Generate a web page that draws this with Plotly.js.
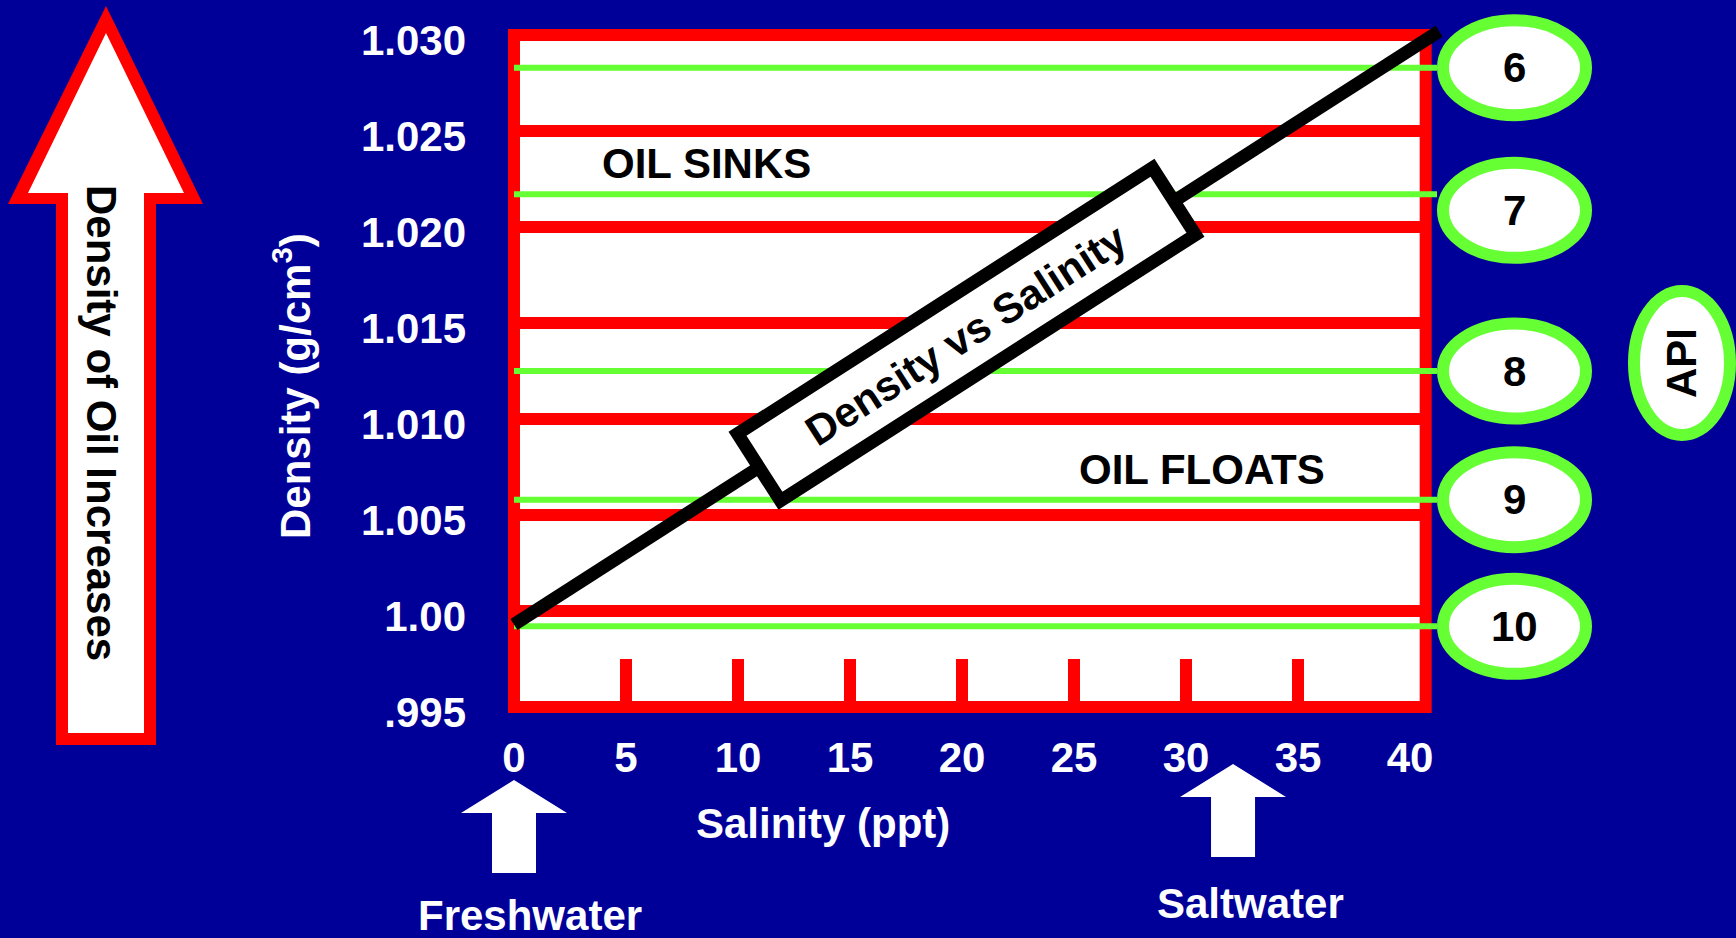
<!DOCTYPE html>
<html>
<head>
<meta charset="utf-8">
<script src="https://cdn.plot.ly/plotly-3.0.1.min.js"></script>
<style>
  html, body { margin: 0; padding: 0; background: #000099; }
  #chart { width: 1736px; height: 938px; }
</style>
</head>
<body>
<div id="chart"></div>
<script>
// ---------------- data ----------------
const salinityTicks = [0, 5, 10, 15, 20, 25, 30, 35, 40];
const salinityTickText = ['0', '5', '10', '15', '20', '25', '30', '35', '40'];
const densityTicks = [0.995, 1.000, 1.005, 1.010, 1.015, 1.020, 1.025, 1.030];
const densityTickText = ['.995', '1.00', '1.005', '1.010', '1.015', '1.020', '1.025', '1.030'];
const lineSalinity = [0, 41.3];
const lineDensity = [0.9993, 1.0302];
const apiGravity = ['6', '7', '8', '9', '10'];
const apiDensity = [1.0283, 1.0217, 1.0125, 1.0058, 0.9992];
const waterLabels = ['Freshwater', 'Saltwater'];
const waterSalinity = [0, 32.1];

// ---------------- geometry / style ----------------
const W = 1736, H = 938;
const X0PX = 514, PXX = 22.4;        // pixel of salinity 0, px per ppt
const Y0PX = 35, PXY = 19200, TOPV = 1.030; // pixel of 1.030, px per g/cm3
const px2x = p => (p - X0PX) / PXX;
const py2y = p => TOPV - (p - Y0PX) / PXY;
const x2px = v => X0PX + v * PXX;
const y2py = d => Y0PX + (TOPV - d) * PXY;
const P = (x, y) => (x / W).toFixed(5) + ',' + (1 - y / H).toFixed(5);
const frameMax = 40.7;
const frameMin = 0;
const densMin = 0.995, densMax = 1.030;

const RED = '#FF0000', GREEN = '#66FF33', BLUE = '#000099';
const FONT = 'Liberation Sans, Arial, Helvetica, sans-serif';
const FS = 42;

const shapes = [];
const annotations = [];

// white plotting field
shapes.push({type: 'rect', xref: 'x', yref: 'y', x0: frameMin, x1: frameMax, y0: densMin, y1: densMax,
  fillcolor: '#FFFFFF', line: {width: 0}, layer: 'below'});
// red horizontal grid lines at each density tick
densityTicks.forEach(d => {
  if (d > densMin && d < densMax) {
    shapes.push({type: 'line', xref: 'x', yref: 'y', x0: frameMin, x1: frameMax, y0: d, y1: d,
      line: {color: RED, width: 12}, layer: 'below'});
  }
});
// red inside tick marks at each salinity tick
salinityTicks.forEach(s => {
  if (s > frameMin && s < 40) {
    shapes.push({type: 'line', xref: 'x', yref: 'y', x0: s, x1: s, y0: densMin, y1: densMin + 48 / PXY,
      line: {color: RED, width: 12}, layer: 'below'});
  }
});
// red frame
shapes.push({type: 'rect', xref: 'x', yref: 'y', x0: frameMin, x1: frameMax, y0: densMin, y1: densMax,
  fillcolor: 'rgba(0,0,0,0)', line: {color: RED, width: 12}, layer: 'below'});

// ---------------- traces ----------------
const circleLeftPx = 1443;
const gx = [], gy = [];
apiDensity.forEach(d => { gx.push(0, px2x(circleLeftPx - 6), null); gy.push(d, d, null); });

const traces = [
  {x: gx, y: gy, type: 'scatter', mode: 'lines', line: {color: GREEN, width: 6}, hoverinfo: 'skip'},
  {x: lineSalinity, y: lineDensity, type: 'scatter', mode: 'lines', line: {color: '#000000', width: 13}, hoverinfo: 'skip'}
];

// ---------------- "Density vs Salinity" label box on the line ----------------
(function () {
  const s = 20.2;
  const t = (s - lineSalinity[0]) / (lineSalinity[1] - lineSalinity[0]);
  const d = lineDensity[0] + t * (lineDensity[1] - lineDensity[0]);
  const cx = x2px(s), cy = y2py(d);
  const dxp = x2px(lineSalinity[1]) - x2px(lineSalinity[0]);
  const dyp = y2py(lineDensity[1]) - y2py(lineDensity[0]);
  const len = Math.hypot(dxp, dyp);
  const ux = dxp / len, uy = dyp / len;      // along line
  const vx = -uy, vy = ux;                   // perpendicular
  const hl = 246.5, hw = 39.8;
  const c = [[-hl, -hw], [hl, -hw], [hl, hw], [-hl, hw]].map(([a, b]) => [cx + a * ux + b * vx, cy + a * uy + b * vy]);
  shapes.push({type: 'path', xref: 'paper', yref: 'paper',
    path: 'M' + c.map(p => P(p[0], p[1])).join(' L') + ' Z',
    fillcolor: '#FFFFFF', line: {color: '#000000', width: 13}, layer: 'above'});
  const ang = Math.atan2(-dyp, dxp) * 180 / Math.PI;
  annotations.push({xref: 'paper', yref: 'paper', x: cx / W, y: 1 - cy / H, text: 'Density vs Salinity',
    showarrow: false, textangle: -ang, xanchor: 'center', yanchor: 'middle',
    font: {family: FONT, size: FS, color: '#000000', weight: 'bold'}});
})();

// ---------------- API circles ----------------
const circleNudgePx = [0, 16, 0, 0, 0];
apiDensity.forEach((d, i) => {
  const cy = y2py(d) + circleNudgePx[i];
  const cx = 1514.5;
  shapes.push({type: 'circle', xref: 'paper', yref: 'paper',
    x0: (cx - 71.5) / W, x1: (cx + 71.5) / W, y0: 1 - (cy + 47.5) / H, y1: 1 - (cy - 47.5) / H,
    fillcolor: '#FFFFFF', line: {color: GREEN, width: 12}, layer: 'above'});
  annotations.push({xref: 'paper', yref: 'paper', x: cx / W, y: 1 - cy / H, text: apiGravity[i],
    showarrow: false, xanchor: 'center', yanchor: 'middle',
    font: {family: FONT, size: FS, color: '#000000', weight: 'bold'}});
});
// API oval
shapes.push({type: 'circle', xref: 'paper', yref: 'paper',
  x0: 1634 / W, x1: 1730 / W, y0: 1 - 435 / H, y1: 1 - 291 / H,
  fillcolor: '#FFFFFF', line: {color: GREEN, width: 12}, layer: 'above'});
annotations.push({xref: 'paper', yref: 'paper', x: 1682 / W, y: 1 - 363 / H, text: 'API',
  showarrow: false, textangle: -90, xanchor: 'center', yanchor: 'middle',
  font: {family: FONT, size: FS, color: '#000000', weight: 'bold'}});

// ---------------- big left arrow ----------------
const outerArrow = [[106, 6], [203, 204], [156, 204], [156, 745], [56, 745], [56, 204], [8, 204]];
const innerArrow = [[106, 33], [184, 193], [144, 193], [144, 733], [68, 733], [68, 193], [28, 193]];
shapes.push({type: 'path', xref: 'paper', yref: 'paper', path: 'M' + outerArrow.map(p => P(p[0], p[1])).join(' L') + ' Z',
  fillcolor: RED, line: {width: 0}, layer: 'above'});
shapes.push({type: 'path', xref: 'paper', yref: 'paper', path: 'M' + innerArrow.map(p => P(p[0], p[1])).join(' L') + ' Z',
  fillcolor: '#FFFFFF', line: {width: 0}, layer: 'above'});
annotations.push({xref: 'paper', yref: 'paper', x: 102 / W, y: 1 - 423 / H, text: 'Density of Oil Increases',
  showarrow: false, textangle: 90, xanchor: 'center', yanchor: 'middle',
  font: {family: FONT, size: FS, color: '#000000', weight: 'bold'}});

// ---------------- freshwater / saltwater arrows ----------------
const waterArrowTipPx = [780, 764];
const waterLabelPx = [[530, 915], [1250, 903]];
waterSalinity.forEach((s, i) => {
  const tx = x2px(s), ty = waterArrowTipPx[i];
  const pts = [[tx, ty], [tx + 53, ty + 33], [tx + 22, ty + 33], [tx + 22, ty + 93], [tx - 22, ty + 93], [tx - 22, ty + 33], [tx - 53, ty + 33]];
  shapes.push({type: 'path', xref: 'paper', yref: 'paper', path: 'M' + pts.map(p => P(p[0], p[1])).join(' L') + ' Z',
    fillcolor: '#FFFFFF', line: {width: 0}, layer: 'above'});
  annotations.push({xref: 'paper', yref: 'paper', x: waterLabelPx[i][0] / W, y: 1 - waterLabelPx[i][1] / H,
    text: waterLabels[i], showarrow: false, xanchor: 'center', yanchor: 'middle',
    font: {family: FONT, size: FS, color: '#FFFFFF', weight: 'bold'}});
});

// ---------------- text labels ----------------
annotations.push({xref: 'paper', yref: 'paper', x: 706 / W, y: 1 - 164 / H, text: 'OIL SINKS',
  showarrow: false, xanchor: 'center', yanchor: 'middle', font: {family: FONT, size: FS, color: '#000000', weight: 'bold'}});
annotations.push({xref: 'paper', yref: 'paper', x: 1202 / W, y: 1 - 469 / H, text: 'OIL FLOATS',
  showarrow: false, xanchor: 'center', yanchor: 'middle', font: {family: FONT, size: FS, color: '#000000', weight: 'bold'}});
annotations.push({xref: 'paper', yref: 'paper', x: 823 / W, y: 1 - 823 / H, text: 'Salinity (ppt)',
  showarrow: false, xanchor: 'center', yanchor: 'middle', font: {family: FONT, size: FS, color: '#FFFFFF', weight: 'bold'}});
annotations.push({xref: 'paper', yref: 'paper', x: 292 / W, y: 1 - 386 / H, text: 'Density (g/cm<sup>3</sup>)',
  showarrow: false, textangle: -90, xanchor: 'center', yanchor: 'middle', font: {family: FONT, size: FS, color: '#FFFFFF', weight: 'bold'}});

const layout = {
  width: W, height: H,
  margin: {l: 0, r: 0, t: 0, b: 0, pad: 0},
  paper_bgcolor: BLUE, plot_bgcolor: BLUE,
  showlegend: false,
  xaxis: {
    domain: [0, 1], range: [px2x(0), px2x(W)], anchor: 'free', position: 1 - 707 / H,
    tickmode: 'array', tickvals: salinityTicks, ticktext: salinityTickText,
    showgrid: false, zeroline: false, showline: false, ticks: '',
    ticklabelstandoff: 22,
    tickfont: {family: FONT, size: FS, color: '#FFFFFF', weight: 'bold'}, automargin: false, fixedrange: true
  },
  yaxis: {
    domain: [0, 1], range: [py2y(H), py2y(0)], anchor: 'free', position: 466 / W,
    tickmode: 'array', tickvals: densityTicks, ticktext: densityTickText,
    showgrid: false, zeroline: false, showline: false, ticks: '',
    ticklabelshift: 5,
    tickfont: {family: FONT, size: FS, color: '#FFFFFF', weight: 'bold'}, automargin: false, fixedrange: true
  },
  shapes: shapes,
  annotations: annotations
};

Plotly.newPlot('chart', traces, layout, {displayModeBar: false, staticPlot: true});
</script>
</body>
</html>
